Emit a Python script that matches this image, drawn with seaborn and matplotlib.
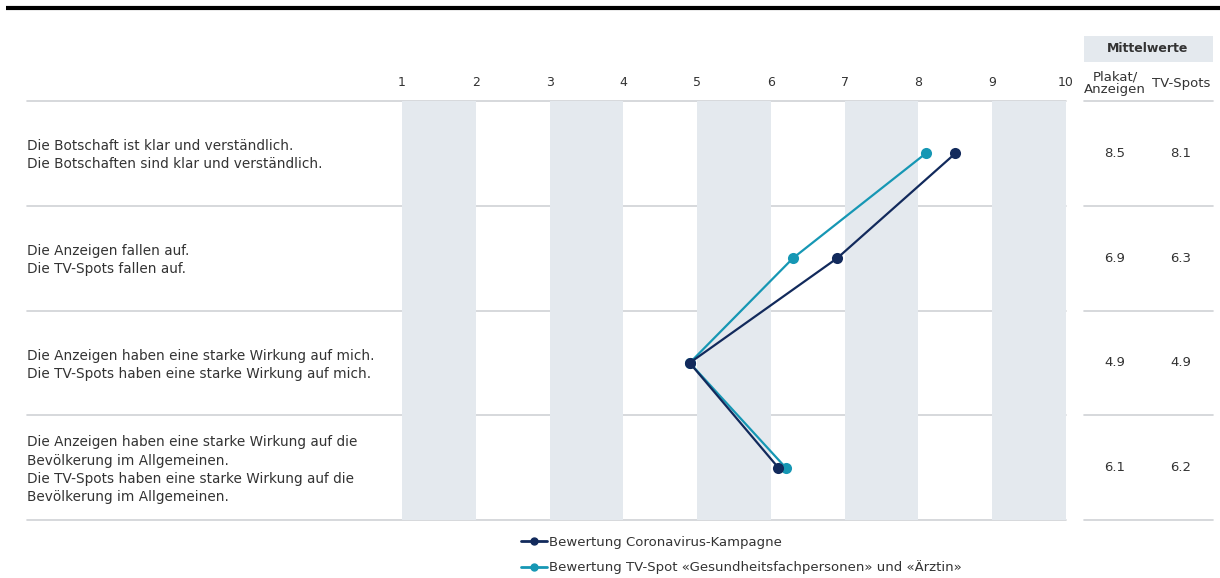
import matplotlib
matplotlib.use("Agg")
import matplotlib.pyplot as plt
import seaborn as sns
import pandas as pd
from matplotlib.lines import Line2D

statements = [
    "Die Botschaft ist klar und verständlich.\nDie Botschaften sind klar und verständlich.",
    "Die Anzeigen fallen auf.\nDie TV-Spots fallen auf.",
    "Die Anzeigen haben eine starke Wirkung auf mich.\nDie TV-Spots haben eine starke Wirkung auf mich.",
    "Die Anzeigen haben eine starke Wirkung auf die\nBevölkerung im Allgemeinen.\nDie TV-Spots haben eine starke Wirkung auf die\nBevölkerung im Allgemeinen.",
]
series_names = ["Bewertung Coronavirus-Kampagne",
                "Bewertung TV-Spot «Gesundheitsfachpersonen» und «Ärztin»"]
kampagne = [8.5, 6.9, 4.9, 6.1]
tvspot = [8.1, 6.3, 4.9, 6.2]
scale_ticks = [1, 2, 3, 4, 5, 6, 7, 8, 9, 10]
table_headers = ["Plakat/\nAnzeigen", "TV-Spots"]
table_title = "Mittelwerte"

NAVY = "#122a5c"
TEAL = "#1697b4"
BAND = "#e4e9ee"
GRID = "#cfd2d6"
TXT = "#333333"

sns.set_theme(style="white")
plt.rcParams["font.family"] = ["DejaVu Sans"]

W, H = 1220, 578
fig = plt.figure(figsize=(W / 100, H / 100), dpi=100)

bg = fig.add_axes([0, 0, 1, 1])
bg.set_xlim(0, W)
bg.set_ylim(H, 0)
bg.axis("off")

# top rule
bg.plot([6, W], [8, 8], color="black", lw=3, solid_capstyle="butt")

x0, x1 = 402, 1066
y0, y1 = 101, 520
ax = fig.add_axes([x0 / W, (H - y1) / H, (x1 - x0) / W, (y1 - y0) / H])
ax.set_zorder(2)
ax.patch.set_alpha(0)
ax.set_xlim(1, 10)
ax.set_ylim(len(statements), 0)

for a in range(1, 10, 2):
    ax.axvspan(a, a + 1, color=BAND, lw=0, zorder=0)

# row separators
row_h = (y1 - y0) / len(statements)
for i in range(len(statements) + 1):
    yy = y0 + i * row_h
    bg.plot([27, x1], [yy, yy], color=GRID, lw=1.2, zorder=1)
    bg.plot([1084, 1213], [yy, yy], color=GRID, lw=1.2, zorder=1)

rows = [i + 0.5 for i in range(len(statements))]
df = pd.DataFrame({
    "value": kampagne + tvspot,
    "row": rows + rows,
    "series": [series_names[0]] * 4 + [series_names[1]] * 4,
})
sns.lineplot(data=df, x="value", y="row", hue="series", hue_order=series_names[::-1],
             palette={series_names[0]: NAVY, series_names[1]: TEAL},
             orient="y", sort=True, marker="o", markersize=8, markeredgewidth=0,
             linewidth=1.6, ax=ax, zorder=3)
leg = ax.get_legend()
if leg:
    leg.remove()

ax.set_xticks([])
ax.set_yticks([])
ax.set_xlabel("")
ax.set_ylabel("")
for s in ax.spines.values():
    s.set_visible(False)

# scale labels
for t in scale_ticks:
    px = x0 + (t - 1) * (x1 - x0) / 9
    bg.text(px, 83, str(t), ha="center", va="center", fontsize=9, color=TXT)

# statements
for i, s in enumerate(statements):
    yy = y0 + (i + 0.5) * row_h
    bg.text(27, yy + 2, s, ha="left", va="center", fontsize=9.8, color=TXT, linespacing=1.38)

# table
bg.add_patch(plt.Rectangle((1084, 36), 129, 26, color=BAND, lw=0))
bg.text(1148, 49, table_title, ha="center", va="center", fontsize=9,
        fontweight="bold", color=TXT)
bg.text(1115, 83, table_headers[0], ha="center", va="center", fontsize=9.5,
        color=TXT, linespacing=0.95)
bg.text(1181, 83, table_headers[1], ha="center", va="center", fontsize=9.5, color=TXT)
for i in range(len(statements)):
    yy = y0 + (i + 0.5) * row_h
    bg.text(1115, yy, f"{kampagne[i]:.1f}", ha="center", va="center", fontsize=9.5, color=TXT)
    bg.text(1181, yy, f"{tvspot[i]:.1f}", ha="center", va="center", fontsize=9.5, color=TXT)

# legend
handles = [Line2D([], [], color=NAVY, marker="o", markersize=5, lw=2),
           Line2D([], [], color=TEAL, marker="o", markersize=5, lw=2)]
fig.legend(handles, series_names, loc="upper left",
           bbox_to_anchor=(514 / W, 1 - 529 / H), frameon=False,
           fontsize=9.5, handlelength=2.0, handletextpad=0.15, labelspacing=0.9,
           borderpad=0, labelcolor=TXT)

fig.savefig("out.png", dpi=100)
